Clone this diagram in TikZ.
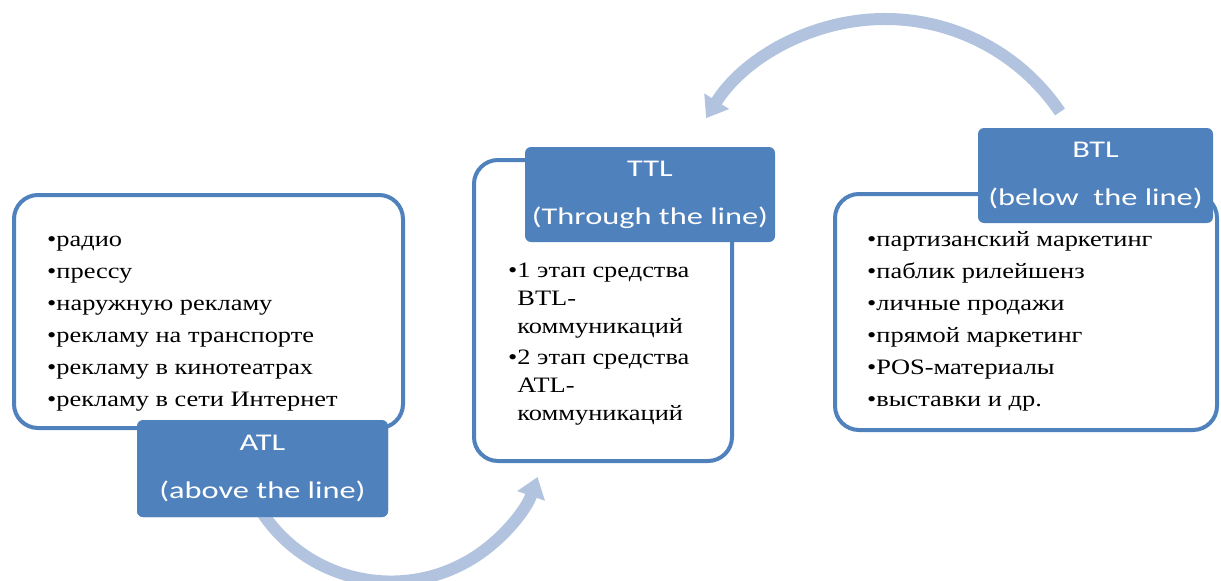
\documentclass[tikz,border=0pt]{standalone}
\usepackage{fontspec}
\setmainfont{Liberation Serif}[FakeStretch=1.2]
\newfontfamily\headfont{Carlito}[FakeStretch=1.35]
\usetikzlibrary{arrows.meta}
\definecolor{frame}{HTML}{4F81BD}
\definecolor{headfill}{HTML}{4F81BD}
\definecolor{arrowfill}{HTML}{B1C3DE}
\newcommand{\bodysize}{\fontsize{22}{32}\selectfont}
\newcommand{\ttlsize}{\fontsize{22}{28}\selectfont}
\newcommand{\headsize}{\fontsize{24}{48}\selectfont}
\newcommand{\hang}{\phantom{\textbullet}}
\tikzset{
 panel/.style={draw=frame,fill=white,line width=4pt,rounded corners=24pt,inner sep=0pt},
 head/.style={fill=headfill,rounded corners=6pt,inner sep=0pt,text=white,font=\headfont\headsize,align=center},
 items/.style={anchor=north west,inner sep=0pt,align=left,font=\bodysize},
 turn/.style={draw=arrowfill,line width=12pt,-{Triangle[length=20pt,width=28pt]}},
}

\begin{document}
\begin{tikzpicture}[x=1pt,y=-1pt]

\useasboundingbox (0,0) rectangle (1221,581);
% cycle arrows
\coordinate (btlout) at (1060,112);
\node[head,minimum width=251pt,minimum height=97pt] (atlhead) at (262.5,468.5) {};
\draw[turn] (btlout) arc[start angle=-34,end angle=-148,radius=211];
\draw[turn] ([yshift=4pt]atlhead.south) arc[start angle=146,end angle=19,radius=155];

% panels
\node[panel,minimum width=389pt,minimum height=233pt] (atlbox) at (208.5,311.5) {};
\node[panel,minimum width=258pt,minimum height=301pt] (ttlbox) at (603,310.5) {};
\node[panel,minimum width=382pt,minimum height=236pt] (btlbox) at (1026,312) {};

\node[items] (atllist) at (47,236) {\textbullet радио\\\textbullet прессу\\\textbullet наружную рекламу\\\textbullet рекламу на транспорте\\\textbullet рекламу в кинотеатрах\\\textbullet рекламу в сети Интернет};
\node[items,font=\ttlsize] (ttllist) at (508,263) {\textbullet 1 этап средства\\\hang BTL-\\\hang коммуникаций\\[3pt]\textbullet 2 этап средства\\\hang ATL-\\\hang коммуникаций};
\node[items] (btllist) at (867,231) {\textbullet партизанский маркетинг\\\textbullet паблик рилейшенз\\\textbullet личные продажи\\\textbullet прямой маркетинг\\\textbullet POS-материалы\\\textbullet выставки и др.};

% headers
\node[head,minimum width=251pt,minimum height=97pt] at (atlhead) {ATL\\(above the line)};
\node[head,minimum width=250pt,minimum height=95pt] (ttlhead) at (650,194.5) {TTL\\(Through the line)};
\node[head,minimum width=235pt,minimum height=95pt] (btlhead) at (1095.5,175.5) {BTL\\(below~ the line)};

\end{tikzpicture}
\end{document}
